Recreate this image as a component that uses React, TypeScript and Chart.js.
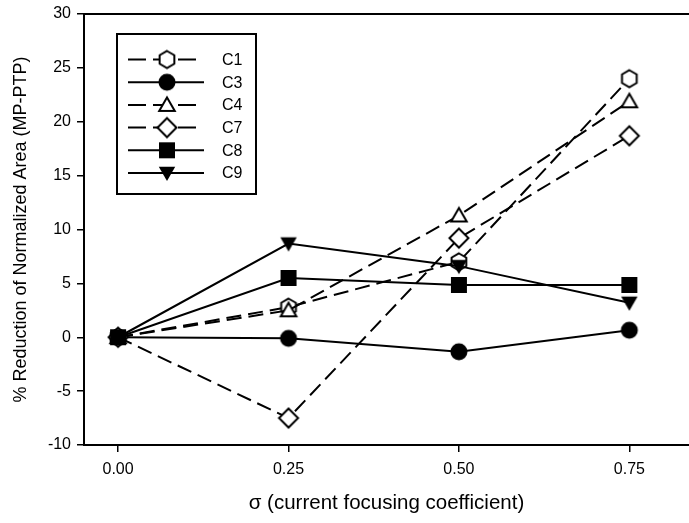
import React, { useEffect, useRef } from "react";
import { Chart, registerables } from "chart.js";

Chart.register(...registerables);

// ---- data ----
const sigmaValues = [0, 0.25, 0.5, 0.75];
const xTickValues = [0, 0.25, 0.5, 0.75];
const xTickLabels = ["0.00", "0.25", "0.50", "0.75"];
const seriesNames = ["C1", "C3", "C4", "C7", "C8", "C9"];
const c1 = [0, 2.8, 7.0, 24.0];
const c3 = [0, -0.1, -1.35, 0.65];
const c4 = [0, 2.5, 11.3, 21.9];
const c7 = [0, -7.5, 9.2, 18.7];
const c8 = [0, 5.5, 4.85, 4.85];
const c9 = [0, 8.7, 6.6, 3.2];
const yMin = -10;
const yMax = 30;
const yStep = 5;

const FONT = "'Liberation Sans', Arial, Helvetica, sans-serif";

type Kind = "hexagon" | "circle" | "triangle" | "diamond" | "square" | "triangleDown";

function makeMarker(kind: Kind): HTMLCanvasElement {
  const s = 24;
  const c = document.createElement("canvas");
  c.width = s;
  c.height = s;
  const ctx = c.getContext("2d")!;
  const cx = 12, cy = 12;
  ctx.lineWidth = 2;
  ctx.strokeStyle = "#000";
  ctx.lineJoin = "miter";
  const poly = (pts: number[][], fill: string, stroke: boolean) => {
    ctx.beginPath();
    pts.forEach((p, i) => (i ? ctx.lineTo(p[0], p[1]) : ctx.moveTo(p[0], p[1])));
    ctx.closePath();
    ctx.fillStyle = fill;
    ctx.fill();
    if (stroke) ctx.stroke();
  };
  if (kind === "circle") {
    ctx.beginPath();
    ctx.arc(cx, cy, 8.5, 0, Math.PI * 2);
    ctx.fillStyle = "#000";
    ctx.fill();
  } else if (kind === "square") {
    ctx.fillStyle = "#000";
    ctx.fillRect(cx - 8, cy - 8, 16, 16);
  } else if (kind === "triangle") {
    const r = 9;
    const pts = [-90, 30, 150].map((a) => [cx + r * Math.cos((a * Math.PI) / 180), cy + 1.5 + r * Math.sin((a * Math.PI) / 180)]);
    poly(pts, "#fff", true);
  } else if (kind === "triangleDown") {
    const r = 9.5;
    const pts = [90, 210, 330].map((a) => [cx + r * Math.cos((a * Math.PI) / 180), cy - 1.5 + r * Math.sin((a * Math.PI) / 180)]);
    poly(pts, "#000", false);
  } else if (kind === "diamond") {
    const r = 9.5;
    poly([[cx, cy - r], [cx + r, cy], [cx, cy + r], [cx - r, cy]], "#fff", true);
  } else if (kind === "hexagon") {
    const r = 8.5;
    const pts = [0, 1, 2, 3, 4, 5].map((k) => {
      const a = ((-90 + 60 * k) * Math.PI) / 180;
      return [cx + r * Math.cos(a), cy + r * Math.sin(a)];
    });
    poly(pts, "#fff", true);
  }
  return c;
}

export default function App() {
  const ref = useRef<HTMLCanvasElement | null>(null);

  useEffect(() => {
    if (!ref.current) return;
    const seriesValues = [c1, c3, c4, c7, c8, c9];
    const kinds: Kind[] = ["hexagon", "circle", "triangle", "diamond", "square", "triangleDown"];
    const dashed = [true, false, true, true, false, false];
    const markers = kinds.map((k) => makeMarker(k));

    const datasets = seriesNames.map((name, i) => ({
      label: name,
      data: sigmaValues.map((x, j) => ({ x, y: seriesValues[i][j] })),
      borderColor: "#000",
      backgroundColor: "#000",
      borderWidth: 2,
      borderDash: dashed[i] ? [15, 7] : [],
      pointStyle: markers[i] as any,
      pointRadius: 9,
      pointHoverRadius: 9,
      fill: false,
      tension: 0,
      order: seriesNames.length - i,
    }));

    const framePlugin = {
      id: "frameLegend",
      afterDraw(chart: any) {
        const { ctx, chartArea } = chart;
        ctx.save();
        ctx.strokeStyle = "#000";
        ctx.lineWidth = 2;
        ctx.beginPath();
        ctx.moveTo(chartArea.left - 1, chartArea.top);
        ctx.lineTo(chartArea.right, chartArea.top);
        ctx.stroke();

        // legend
        const bx = 117, by = 34, bw = 139, bh = 160;
        ctx.fillStyle = "#fff";
        ctx.fillRect(bx, by, bw, bh);
        ctx.strokeRect(bx, by, bw, bh);
        const y0 = 59.5, step = 22.7;
        chart.data.datasets.forEach((ds: any, i: number) => {
          const y = y0 + i * step;
          const isDashed = ds.borderDash && ds.borderDash.length;
          ctx.setLineDash(isDashed ? [18, 7] : []);
          ctx.lineWidth = 2;
          ctx.beginPath();
          ctx.moveTo(128, y);
          ctx.lineTo(isDashed ? 196 : 204, y);
          ctx.stroke();
          ctx.setLineDash([]);
          const img = ds.pointStyle as HTMLCanvasElement;
          ctx.drawImage(img, 167 - img.width / 2, y - img.height / 2);
          ctx.fillStyle = "#000";
          ctx.font = `16px ${FONT}`;
          ctx.textAlign = "left";
          ctx.textBaseline = "middle";
          ctx.fillText(ds.label, 222, y + 1);
        });
        ctx.restore();
      },
    };

    const chart = new Chart(ref.current, {
      type: "line",
      data: { datasets: datasets as any },
      options: {
        animation: false,
        responsive: false,
        devicePixelRatio: 1,
        layout: { autoPadding: false, padding: { top: 14, right: 0, left: 0, bottom: 0 } },
        plugins: { legend: { display: false }, tooltip: { enabled: false } },
        scales: {
          x: {
            type: "linear",
            min: -0.05,
            max: 0.8375,
            afterFit: (scale: any) => {
              scale.height = 78;
              scale.paddingLeft = 0;
              scale.paddingRight = 0;
            },
            afterBuildTicks: (scale: any) => {
              scale.ticks = xTickValues.map((v) => ({ value: v }));
            },
            ticks: {
              color: "#000",
              font: { family: FONT, size: 16 },
              padding: 8,
              maxRotation: 0,
              autoSkip: false,
              callback: (v: any) => {
                const idx = xTickValues.indexOf(Number(v));
                return idx >= 0 ? xTickLabels[idx] : "";
              },
            },
            grid: { display: true, drawOnChartArea: false, drawTicks: true, tickLength: 7, color: "#000", lineWidth: 1.5 },
            border: { display: true, color: "#000", width: 2 },
            title: {
              display: true,
              text: "σ (current focusing coefficient)",
              color: "#000",
              font: { family: FONT, size: 20.5 },
              padding: { top: 0, bottom: 7 },
            },
          },
          y: {
            type: "linear",
            min: yMin,
            max: yMax,
            afterFit: (scale: any) => {
              scale.width = 84;
              scale.paddingTop = 0;
              scale.paddingBottom = 0;
            },
            ticks: {
              stepSize: yStep,
              color: "#000",
              font: { family: FONT, size: 16 },
              padding: 6,
            },
            grid: { display: true, drawOnChartArea: false, drawTicks: true, tickLength: 7, color: "#000", lineWidth: 1.5 },
            border: { display: true, color: "#000", width: 2 },
            title: {
              display: true,
              text: "% Reduction of Normalized Area (MP-PTP)",
              color: "#000",
              font: { family: FONT, size: 18 },
              padding: { top: 10, bottom: 0 },
            },
          },
        },
      },
      plugins: [framePlugin],
    });
    return () => chart.destroy();
  }, []);

  return (
    <div style={{ position: "fixed", left: 0, top: 0, width: 689, height: 523, background: "#fff" }}>
      <canvas ref={ref} width={689} height={523} style={{ display: "block", width: 689, height: 523 }} />
    </div>
  );
}
